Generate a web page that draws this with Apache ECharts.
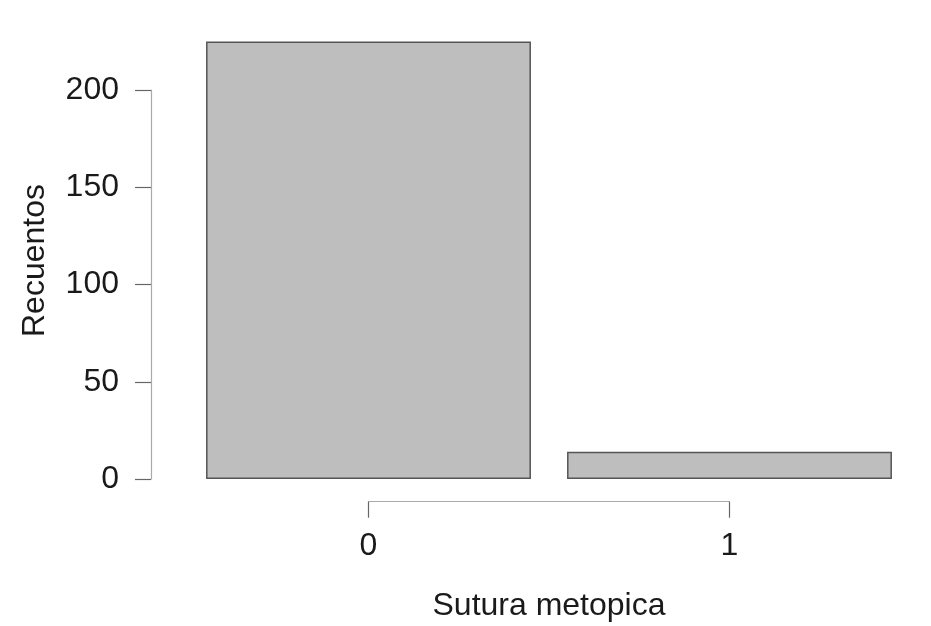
<!DOCTYPE html>
<html>
<head>
<meta charset="utf-8">
<title>Sutura metopica</title>
<script src="https://cdn.jsdelivr.net/npm/echarts@6/dist/echarts.min.js"></script>
<style>
  html, body { margin: 0; padding: 0; background: #fff; }
  #chart { width: 931px; height: 626px; }
</style>
</head>
<body>
<div id="chart"></div>
<script>
const categories = ['0', '1']
const counts = [225, 14]
const yTicks = [0, 50, 100, 150, 200]

const font = 'Liberation Sans, Arial, sans-serif'
const textColor = '#1a1a1a'

const chart = echarts.init(document.getElementById('chart'))

chart.setOption({
  animation: false,
  grid: [
    // bars
    { left: 188, right: 21, top: 90, height: 389 },
    // y axis (R style, only spans 0..200)
    { left: 151, width: 1, top: 90, height: 389 },
    // x axis (R style, only spans between category ticks)
    { left: 368.5, width: 361, top: 470, height: 31.7 }
  ],
  xAxis: [{
    gridIndex: 0,
    type: 'category',
    data: categories,
    show: false
  }, {
    gridIndex: 1,
    type: 'value',
    show: false
  }, {
    gridIndex: 2,
    type: 'category',
    data: categories,
    boundaryGap: false,
    position: 'bottom',
    name: 'Sutura metopica',
    nameLocation: 'middle',
    nameGap: 88,
    nameTextStyle: { fontFamily: font, fontSize: 32, color: textColor },
    axisLine: { show: true, lineStyle: { color: '#aaa', width: 1.2 } },
    axisTick: { show: true, length: 16, lineStyle: { color: '#666', width: 1.2 } },
    axisLabel: { margin: 28, fontFamily: font, fontSize: 32, color: textColor },
    splitLine: { show: false }
  }],
  yAxis: [{
    gridIndex: 0,
    type: 'value',
    min: yTicks[0],
    max: yTicks[yTicks.length - 1],
    show: false
  }, {
    gridIndex: 1,
    type: 'value',
    min: yTicks[0],
    max: yTicks[yTicks.length - 1],
    interval: yTicks[1] - yTicks[0],
    position: 'left',
    name: 'Recuentos',
    nameLocation: 'middle',
    nameGap: 100,
    // R centres the label on the whole plot region, which reaches above 200
    nameTextStyle: { fontFamily: font, fontSize: 32, color: textColor, padding: [0, 0, 0, 48] },
    axisLine: { show: true, lineStyle: { color: '#aaa', width: 1.2 } },
    axisTick: { show: true, length: 16, lineStyle: { color: '#666', width: 1.2 } },
    axisLabel: { margin: 32, fontFamily: font, fontSize: 32, color: textColor },
    splitLine: { show: false }
  }, {
    gridIndex: 2,
    type: 'value',
    show: false
  }],
  series: [{
    type: 'bar',
    xAxisIndex: 0,
    yAxisIndex: 0,
    data: counts,
    clip: false,
    barCategoryGap: '10%',
    itemStyle: {
      color: '#bebebe',
      borderColor: '#555',
      borderWidth: 1.5
    }
  }]
})
</script>
</body>
</html>
